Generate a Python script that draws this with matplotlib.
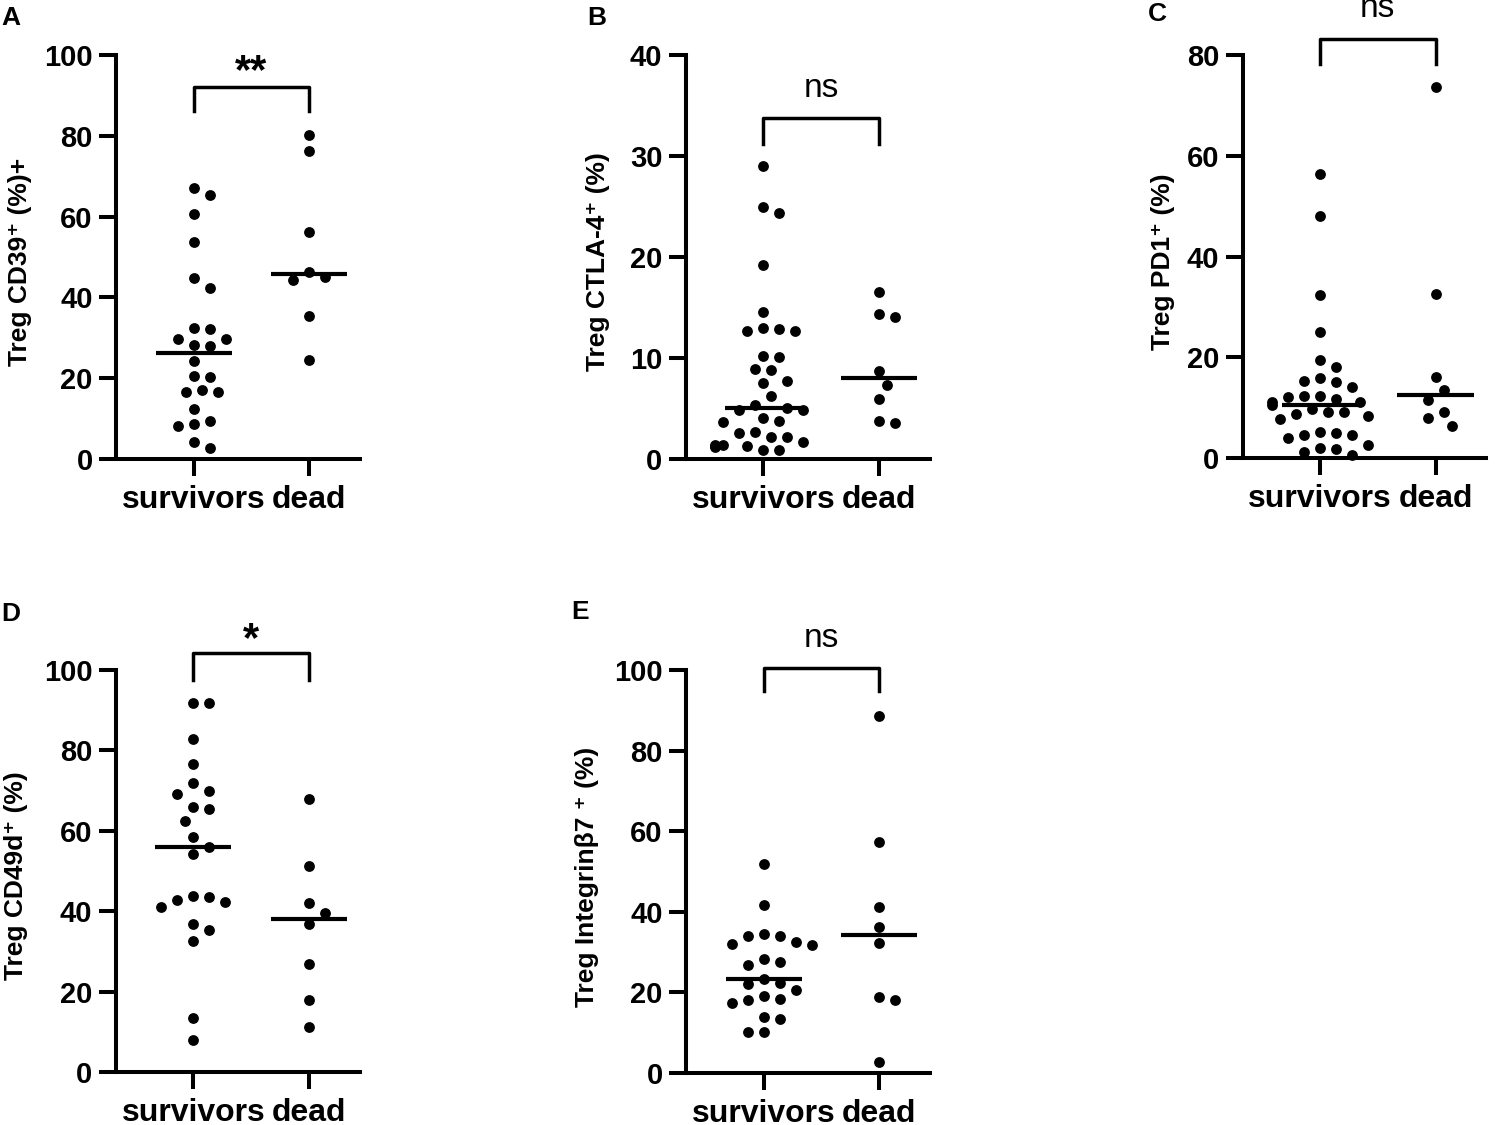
import numpy as np
import matplotlib
matplotlib.use("Agg")
import matplotlib.pyplot as plt

plt.rcParams['font.family'] = ['Liberation Sans', 'DejaVu Sans']
plt.rcParams['font.weight'] = 'bold'

groups = ["survivors", "dead"]

# ---- values (percent)
cd39_surv = [67.2, 65.3, 60.6, 53.8, 44.8, 42.4, 32.3, 32.4, 29.7, 29.7, 28.3, 28.0,
             24.3, 20.6, 20.3, 17.2, 16.6, 16.6, 12.4, 9.4, 8.2, 8.6, 4.1, 2.8]
cd39_dead = [80.2, 76.2, 56.1, 46.4, 45.1, 44.3, 35.3, 24.4]

ctla4_surv = [29.0, 24.9, 24.3, 19.2, 14.5, 12.95, 12.65, 12.65, 12.8, 10.1, 10.15,
              8.9, 8.8, 7.7, 7.5, 6.2, 4.8, 5.0, 5.3, 4.8, 4.0, 3.6, 3.7, 2.5, 2.6,
              2.1, 2.1, 1.6, 1.1, 1.2, 1.3, 1.3, 1.2, 0.8, 0.8]
ctla4_dead = [16.5, 14.3, 14.0, 8.7, 7.3, 5.9, 3.5, 3.7]

pd1_surv = [56.4, 48.0, 32.4, 25.0, 19.4, 18.1, 15.3, 15.8, 15.1, 14.0, 12.4, 12.3,
            12.2, 11.8, 11.2, 11.2, 10.6, 9.8, 8.7, 9.2, 9.2, 8.3, 7.7, 5.2, 4.9,
            4.6, 4.6, 3.9, 2.6, 1.9, 1.8, 1.1, 0.5]
pd1_dead = [73.7, 32.6, 16.0, 13.5, 11.5, 9.2, 7.9, 6.3]

cd49d_surv = [91.8, 91.8, 82.9, 76.5, 71.9, 69.2, 69.8, 65.4, 66.0, 62.4, 58.4, 55.9,
              54.3, 42.7, 43.9, 43.5, 42.4, 41.1, 36.8, 35.4, 32.7, 13.5, 7.9]
cd49d_dead = [68.0, 51.3, 42.1, 39.5, 36.7, 26.9, 17.8, 11.2]

itgb7_surv = [51.9, 41.6, 34.1, 34.1, 34.6, 31.7, 32.0, 32.5, 28.4, 27.6, 26.8, 23.4,
              22.3, 22.2, 20.7, 19.0, 18.1, 18.4, 17.3, 13.5, 14.0, 10.1, 10.2]
itgb7_dead = [88.5, 57.2, 41.3, 36.3, 32.3, 18.8, 18.1, 2.7]

# ---- one entry per panel
panels = [
    dict(letter="A", surv=cd39_surv, dead=cd39_dead, ymax=100, ystep=20,
         ylabel="Treg CD39⁺ (%)+", star="**", br=(92.2, 86.1), st=93.0,
         x0=193.7, top=55, bot=459, ylx=20, letpos=(11, 18)),
    dict(letter="B", surv=ctla4_surv, dead=ctla4_dead, ymax=40, ystep=10,
         ylabel="Treg CTLA-4⁺ (%)", star="ns", br=(33.8, 31.2), st=36.7,
         x0=763.3, top=55, bot=458.5, ylx=598, letpos=(597, 18)),
    dict(letter="C", surv=pd1_surv, dead=pd1_dead, ymax=80, ystep=20,
         ylabel="Treg PD1⁺ (%)", star="ns", br=(83.1, 78.3), st=89.3,
         x0=1320, top=55, bot=458, ylx=1163, letpos=(1157, 14)),
    dict(letter="D", surv=cd49d_surv, dead=cd49d_dead, ymax=100, ystep=20,
         ylabel="Treg CD49d⁺ (%)", star="*", br=(104.2, 97.5), st=104.6,
         x0=193.3, top=670, bot=1072, ylx=16, letpos=(11, 614)),
    dict(letter="E", surv=itgb7_surv, dead=itgb7_dead, ymax=100, ystep=20,
         ylabel="Treg Integrinβ7 ⁺ (%)", star="ns", br=(100.5, 94.7), st=107.9,
         x0=763.7, top=670, bot=1073, ylx=587, letpos=(580, 612)),
]

W, H = 1512, 1125
UNIT = 115.5          # px between the two groups
XL = (-0.67, 1.44)
DOT = 10.8            # dot diameter in px


def swarm(vals, py):
    # simple beeswarm: place points by value, nearest free slot to the centre
    order = np.argsort(vals)[::-1]
    step = 8.0
    placed = []
    offs = np.zeros(len(vals))
    for i in order:
        y = vals[i] * py
        for k in [0, 1, -1, 2, -2, 3, -3, 4, -4, 5, -5, 6, -6]:
            x = k * step
            ok = all((x - px_) ** 2 + (y - py_) ** 2 >= (DOT + 4) ** 2 for px_, py_ in placed)
            if ok:
                break
        placed.append((x, y))
        offs[i] = x / UNIT
    return offs


fig = plt.figure(figsize=(W / 100, H / 100), dpi=100)

for p in panels:
    left = p["x0"] + XL[0] * UNIT
    width = (XL[1] - XL[0]) * UNIT
    ax = fig.add_axes([left / W, 1 - p["bot"] / H, width / W, (p["bot"] - p["top"]) / H])
    py = (p["bot"] - p["top"]) / p["ymax"]

    for gi, vals in enumerate([p["surv"], p["dead"]]):
        vals = np.array(vals)
        offs = swarm(vals, py)
        ax.scatter(gi + offs, vals, s=DOT ** 2 * 0.52, color="black", zorder=3,
                   clip_on=False, linewidths=0)
        med = np.median(vals)
        ax.plot([gi - 0.33, gi + 0.33], [med, med], color="black", lw=3.0,
                solid_capstyle="butt", zorder=4)

    # significance bracket
    b_top, b_leg = p["br"]
    ax.plot([0, 0, 1, 1], [b_leg, b_top, b_top, b_leg], color="black", lw=2.5,
            clip_on=False)
    if p["star"] == "ns":
        ax.text(0.5, p["st"], "ns", ha="center", va="center", fontsize=24,
                fontweight="normal", clip_on=False)
    else:
        ax.text(0.5, p["st"], p["star"], ha="center", va="baseline", fontsize=30,
                fontweight="bold", clip_on=False)

    ax.set_xlim(*XL)
    ax.set_ylim(0, p["ymax"])
    ax.set_yticks(np.arange(0, p["ymax"] + 1, p["ystep"]))
    ax.set_xticks([0, 1])
    ax.set_xticklabels(groups)
    for s in ["top", "right"]:
        ax.spines[s].set_visible(False)
    for s in ["left", "bottom"]:
        ax.spines[s].set_linewidth(2.9)
    ax.tick_params(axis="both", length=12, width=2.9, labelsize=21, pad=5)
    for lab in ax.get_xticklabels() + ax.get_yticklabels():
        lab.set_fontweight("bold")
    ax.tick_params(axis="x", labelsize=23, pad=7)

    yc = (p["top"] + p["bot"]) / 2 + 5
    fig.text(p["ylx"] / W, 1 - yc / H, p["ylabel"], rotation=90, ha="center",
             va="center", fontsize=19, fontweight="bold")
    fig.text(p["letpos"][0] / W, 1 - p["letpos"][1] / H, p["letter"], ha="center",
             va="center", fontsize=19, fontweight="bold")

fig.savefig("out.png", dpi=100)
